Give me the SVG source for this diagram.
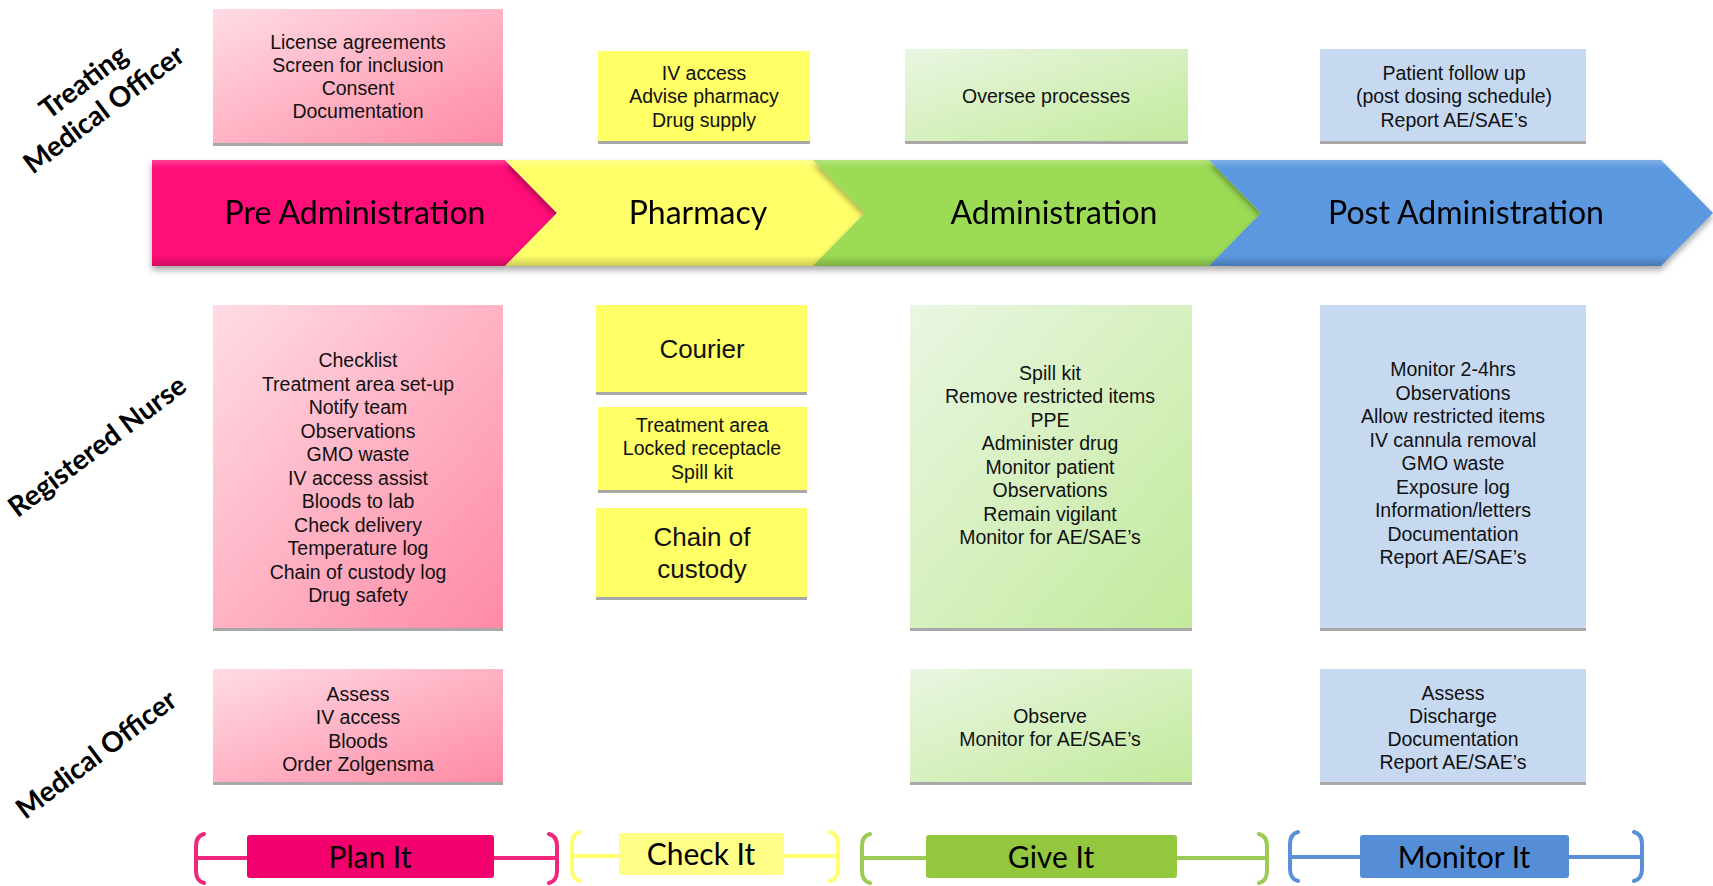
<svg xmlns="http://www.w3.org/2000/svg" width="1713" height="886" viewBox="0 0 1713 886">
<defs>
<linearGradient id="gPink" x1="0" y1="0" x2="1" y2="1"><stop offset="0" stop-color="#FFDCE4"/><stop offset="1" stop-color="#FE8AA6"/></linearGradient>
<linearGradient id="gGreen" x1="0" y1="0" x2="1" y2="1"><stop offset="0" stop-color="#EAF6E2"/><stop offset="1" stop-color="#C2EA9C"/></linearGradient>
<linearGradient id="gShade" x1="0" y1="0" x2="0" y2="1"><stop offset="0" stop-color="#fff" stop-opacity="0.22"/><stop offset="0.08" stop-color="#fff" stop-opacity="0"/><stop offset="0.9" stop-color="#000" stop-opacity="0"/><stop offset="1" stop-color="#000" stop-opacity="0.2"/></linearGradient>
<filter id="sh" x="-5%" y="-10%" width="110%" height="130%"><feDropShadow dx="0" dy="4" stdDeviation="3" flood-color="#000" flood-opacity="0.35"/></filter>
</defs>
<style>
.bt{font-family:"Liberation Sans",Arial,sans-serif;font-size:19.5px;fill:#111;text-anchor:middle}
.big{font-size:26px}
.at{font-family:Lato,"Open Sans",sans-serif;font-size:32px;fill:#000;text-anchor:middle}
.lt{font-family:Lato,"Open Sans",sans-serif;font-size:30px;fill:#000;text-anchor:middle}
.role{font-family:Lato,"Open Sans",sans-serif;font-weight:bold;font-size:28px;fill:#000;text-anchor:middle}
.edge{fill:#A8A8A8}
.pink{fill:url(#gPink)}
.green{fill:url(#gGreen)}
.blue{fill:#C6D9F1}
.yel{fill:#FFFF66}
.br{fill:none;stroke-width:4;stroke-linecap:round}
</style>

<!-- role labels -->
<g id="role-tmo"><text class="role" transform="translate(94,96) rotate(-37)"><tspan x="0" y="-8">Treating</tspan><tspan x="0" y="26">Medical Officer</tspan></text></g>
<g id="role-rn"><text class="role" transform="translate(97,446) rotate(-37)" y="10">Registered Nurse</text></g>
<g id="role-mo"><text class="role" transform="translate(96,754) rotate(-37)" y="10">Medical Officer</text></g>

<!-- phase arrows -->
<g id="arrow-pre" filter="url(#sh)"><polygon points="152,160 505,160 557,213 505,266 152,266" fill="#FF0A78"/><polygon points="152,160 505,160 557,213 505,266 152,266" fill="url(#gShade)"/><text class="at" x="355" y="224">Pre Administration</text></g>
<g id="arrow-pharm" filter="url(#sh)"><polygon points="505,160 813,160 865,213 813,266 505,266 557,213" fill="#FFFF6A"/><polygon points="505,160 813,160 865,213 813,266 505,266 557,213" fill="url(#gShade)"/><text class="at" x="698" y="224">Pharmacy</text></g>
<g id="arrow-admin" filter="url(#sh)"><polygon points="813,160 1209,160 1261,213 1209,266 813,266 865,213" fill="#9BDB55"/><polygon points="813,160 1209,160 1261,213 1209,266 813,266 865,213" fill="url(#gShade)"/><text class="at" x="1054" y="224">Administration</text></g>
<g id="arrow-post" filter="url(#sh)"><polygon points="1209,160 1661,160 1713,213 1661,266 1209,266 1261,213" fill="#5B98DF"/><polygon points="1209,160 1661,160 1713,213 1661,266 1209,266 1261,213" fill="url(#gShade)"/><text class="at" x="1466" y="224">Post Administration</text></g>

<!-- top row -->
<g id="tmo-pre"><rect class="edge" x="213" y="142" width="290" height="4"/><rect class="pink" x="213" y="9" width="290" height="134"/>
<text class="bt" x="358"><tspan x="358" y="48.5">License agreements</tspan><tspan x="358" y="71.8">Screen for inclusion</tspan><tspan x="358" y="95.1">Consent</tspan><tspan x="358" y="118.4">Documentation</tspan></text></g>
<g id="tmo-pharm"><rect class="edge" x="598" y="140" width="212" height="4"/><rect class="yel" x="598" y="51" width="212" height="90"/>
<text class="bt"><tspan x="704" y="80">IV access</tspan><tspan x="704" y="103.3">Advise pharmacy</tspan><tspan x="704" y="126.6">Drug supply</tspan></text></g>
<g id="tmo-admin"><rect class="edge" x="905" y="140" width="283" height="4"/><rect class="green" x="905" y="49" width="283" height="92"/>
<text class="bt" x="1046" y="103">Oversee processes</text></g>
<g id="tmo-post"><rect class="edge" x="1320" y="140" width="266" height="4"/><rect class="blue" x="1320" y="49" width="266" height="92"/>
<text class="bt"><tspan x="1454" y="80">Patient follow up</tspan><tspan x="1454" y="103.3">(post dosing schedule)</tspan><tspan x="1454" y="126.6">Report AE/SAE’s</tspan></text></g>

<!-- middle row -->
<g id="rn-pre"><rect class="edge" x="213" y="627" width="290" height="4"/><rect class="pink" x="213" y="305" width="290" height="323"/>
<text class="bt"><tspan x="358" y="367">Checklist</tspan><tspan x="358" y="390.5">Treatment area set-up</tspan><tspan x="358" y="414">Notify team</tspan><tspan x="358" y="437.5">Observations</tspan><tspan x="358" y="461">GMO waste</tspan><tspan x="358" y="484.5">IV access assist</tspan><tspan x="358" y="508">Bloods to lab</tspan><tspan x="358" y="531.5">Check delivery</tspan><tspan x="358" y="555">Temperature log</tspan><tspan x="358" y="578.5">Chain of custody log</tspan><tspan x="358" y="602">Drug safety</tspan></text></g>
<g id="rn-courier"><rect class="edge" x="596" y="391" width="211" height="4"/><rect class="yel" x="596" y="305" width="211" height="87"/>
<text class="bt big" x="702" y="358">Courier</text></g>
<g id="rn-treat"><rect class="edge" x="598" y="489" width="209" height="4"/><rect class="yel" x="598" y="407" width="209" height="83"/>
<text class="bt"><tspan x="702" y="432">Treatment area</tspan><tspan x="702" y="455.3">Locked receptacle</tspan><tspan x="702" y="478.6">Spill kit</tspan></text></g>
<g id="rn-chain"><rect class="edge" x="596" y="596" width="211" height="4"/><rect class="yel" x="596" y="508" width="211" height="89"/>
<text class="bt big"><tspan x="702" y="546">Chain of</tspan><tspan x="702" y="578">custody</tspan></text></g>
<g id="rn-admin"><rect class="edge" x="910" y="627" width="282" height="4"/><rect class="green" x="910" y="305" width="282" height="323"/>
<text class="bt"><tspan x="1050" y="379.5">Spill kit</tspan><tspan x="1050" y="403">Remove restricted items</tspan><tspan x="1050" y="426.5">PPE</tspan><tspan x="1050" y="450">Administer drug</tspan><tspan x="1050" y="473.5">Monitor patient</tspan><tspan x="1050" y="497">Observations</tspan><tspan x="1050" y="520.5">Remain vigilant</tspan><tspan x="1050" y="544">Monitor for AE/SAE’s</tspan></text></g>
<g id="rn-post"><rect class="edge" x="1320" y="627" width="266" height="4"/><rect class="blue" x="1320" y="305" width="266" height="323"/>
<text class="bt"><tspan x="1453" y="376">Monitor 2-4hrs</tspan><tspan x="1453" y="399.5">Observations</tspan><tspan x="1453" y="423">Allow restricted items</tspan><tspan x="1453" y="446.5">IV cannula removal</tspan><tspan x="1453" y="470">GMO waste</tspan><tspan x="1453" y="493.5">Exposure log</tspan><tspan x="1453" y="517">Information/letters</tspan><tspan x="1453" y="540.5">Documentation</tspan><tspan x="1453" y="564">Report AE/SAE’s</tspan></text></g>

<!-- bottom row -->
<g id="mo-pre"><rect class="edge" x="213" y="781" width="290" height="4"/><rect class="pink" x="213" y="669" width="290" height="113"/>
<text class="bt"><tspan x="358" y="701">Assess</tspan><tspan x="358" y="724.3">IV access</tspan><tspan x="358" y="747.6">Bloods</tspan><tspan x="358" y="770.9">Order Zolgensma</tspan></text></g>
<g id="mo-admin"><rect class="edge" x="910" y="781" width="282" height="4"/><rect class="green" x="910" y="669" width="282" height="113"/>
<text class="bt"><tspan x="1050" y="722.5">Observe</tspan><tspan x="1050" y="745.8">Monitor for AE/SAE’s</tspan></text></g>
<g id="mo-post"><rect class="edge" x="1320" y="781" width="266" height="4"/><rect class="blue" x="1320" y="669" width="266" height="113"/>
<text class="bt"><tspan x="1453" y="699.5">Assess</tspan><tspan x="1453" y="722.8">Discharge</tspan><tspan x="1453" y="746.1">Documentation</tspan><tspan x="1453" y="769.4">Report AE/SAE’s</tspan></text></g>

<!-- bottom brackets -->
<g id="connectors">
<path class="br" stroke="#F0267C" d="M204,834 Q196,836 196,846 V871 Q196,881 204,883 M549,834 Q557,836 557,846 V871 Q557,881 549,883 M196,858 H557"/>
<path class="br" stroke="#FFFF70" d="M580,832 Q572,834 572,844 V869 Q572,879 580,881 M830,832 Q838,834 838,844 V869 Q838,879 830,881 M572,856 H838"/>
<path class="br" stroke="#9CCB55" d="M870,834 Q862,836 862,846 V871 Q862,881 870,883 M1259,834 Q1267,836 1267,846 V871 Q1267,881 1259,883 M862,858 H1267"/>
<path class="br" stroke="#5B90D6" d="M1298,832 Q1290,834 1290,844 V869 Q1290,879 1298,881 M1634,832 Q1642,834 1642,844 V869 Q1642,879 1634,881 M1290,857 H1642"/>
</g>
<g id="plan-it"><rect x="247" y="835" width="247" height="43" rx="3" fill="#F2006E"/><text class="lt" x="370" y="868">Plan It</text></g>
<g id="check-it"><rect x="619" y="833" width="165" height="42" rx="3" fill="#FFFF88"/><text class="lt" x="701" y="865">Check It</text></g>
<g id="give-it"><rect x="926" y="835" width="251" height="43" rx="3" fill="#93C83E"/><text class="lt" x="1051" y="868">Give It</text></g>
<g id="monitor-it"><rect x="1360" y="835" width="209" height="43" rx="3" fill="#558DD6"/><text class="lt" x="1464" y="868">Monitor It</text></g>
</svg>
